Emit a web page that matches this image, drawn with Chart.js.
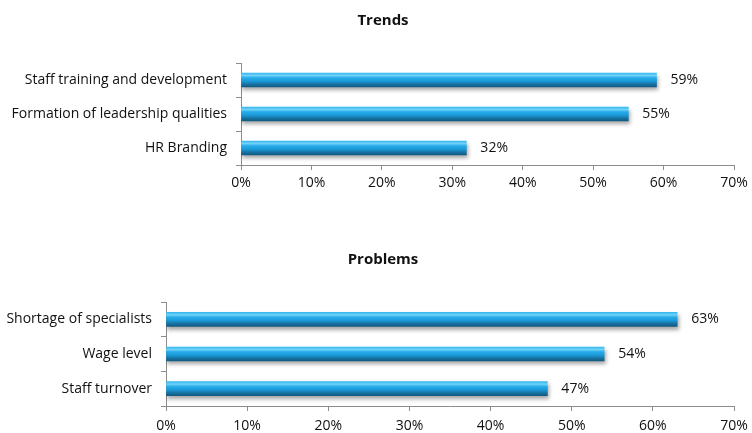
<!DOCTYPE html>
<html>
<head>
<meta charset="utf-8">
<script src="https://cdn.jsdelivr.net/npm/chart.js@4/dist/chart.umd.min.js"></script>
<style>
    html, body { margin: 0; padding: 0; background: #fff; overflow: hidden; }
    .box { position: absolute; left: 0; width: 752px; }
    #trendsBox { top: 0; height: 200px; }
    #problemsBox { top: 230px; height: 203px; }
    .title {
        position: absolute; left: 0; width: 766px; text-align: center;
        font: bold 15px 'Open Sans', sans-serif; color: #111; line-height: 18px;
    }
</style>
</head>
<body>
<div class="box" id="trendsBox"><canvas id="trendsChart"></canvas></div>
<div class="box" id="problemsBox"><canvas id="problemsChart"></canvas></div>
<div class="title" style="top:10px">Trends</div>
<div class="title" style="top:249px">Problems</div>
<script>
const trendLabels = ['Staff training and development', 'Formation of leadership qualities', 'HR Branding'];
const trendValues = [59, 55, 32];

const problemLabels = ['Shortage of specialists', 'Wage level', 'Staff turnover'];
const problemValues = [63, 54, 47];

const axisTicks = [0, 10, 20, 30, 40, 50, 60, 70];

const FONT = "'Open Sans', sans-serif";
Chart.defaults.font.family = FONT;
Chart.defaults.font.size = 14;
Chart.defaults.color = '#111';

const BAR_H = 14;

// glossy bar fill, computed from the category pixel
function barFill(ctx) {
    const chart = ctx.chart;
    const yScale = chart.scales.y;
    if (!yScale) return '#1b9ad6';
    const cy = yScale.getPixelForValue(ctx.dataIndex);
    if (!isFinite(cy)) return '#1b9ad6';
    const g = chart.ctx.createLinearGradient(0, cy - BAR_H / 2, 0, cy + BAR_H / 2);
    g.addColorStop(0, '#36b8ee');
    g.addColorStop(0.18, '#6fd2f6');
    g.addColorStop(0.35, '#26aceb');
    g.addColorStop(0.6, '#1a97d4');
    g.addColorStop(0.8, '#1772a2');
    g.addColorStop(1, '#135a82');
    return g;
}

const barShadow = {
    id: 'barShadow',
    beforeDatasetDraw(chart) {
        const c = chart.ctx;
        c.save();
        c.shadowColor = 'rgba(0,0,0,0.35)';
        c.shadowOffsetY = 3;
        c.shadowOffsetX = 1;
        c.shadowBlur = 4;
    },
    afterDatasetDraw(chart) {
        chart.ctx.restore();
    }
};

const valueLabels = {
    id: 'valueLabels',
    afterDatasetsDraw(chart) {
        const c = chart.ctx;
        const meta = chart.getDatasetMeta(0);
        const vals = chart.data.datasets[0].data;
        c.save();
        c.font = '14px ' + FONT;
        c.fillStyle = '#111';
        c.textAlign = 'left';
        c.textBaseline = 'middle';
        meta.data.forEach((bar, i) => {
            c.fillText(vals[i] + '%', bar.x + 14, bar.y);
        });
        c.restore();
    }
};

function makeChart(id, labels, values, axisWidth, plotTop, plotBottom, boxH, tickPad) {
    return new Chart(document.getElementById(id), {
        type: 'bar',
        data: {
            labels: labels,
            datasets: [{
                data: values,
                backgroundColor: barFill,
                borderWidth: 0,
                barThickness: BAR_H
            }]
        },
        plugins: [barShadow, valueLabels],
        options: {
            indexAxis: 'y',
            responsive: true,
            maintainAspectRatio: false,
            animation: false,
            layout: { padding: { left: 0, right: 18, top: plotTop, bottom: 0 } },
            scales: {
                x: {
                    min: axisTicks[0],
                    max: axisTicks[axisTicks.length - 1],
                    afterBuildTicks: (s) => { s.ticks = axisTicks.map(v => ({ value: v })); },
                    afterFit: (s) => {
                        s.height = boxH - plotBottom;
                        s.paddingLeft = 0;
                        s.paddingRight = 10;
                    },
                    grid: { drawOnChartArea: false, drawTicks: true, tickLength: 5, color: '#8c8c8c' },
                    border: { display: true, color: '#8c8c8c', width: 1 },
                    ticks: { callback: v => v + '%', padding: tickPad, maxRotation: 0 }
                },
                y: {
                    afterFit: (s) => { s.width = axisWidth; },
                    grid: { drawOnChartArea: false, drawTicks: true, tickLength: 5, color: '#8c8c8c', offset: true },
                    border: { display: true, color: '#8c8c8c', width: 1 },
                    ticks: { padding: 9 }
                }
            },
            plugins: {
                legend: { display: false },
                tooltip: { enabled: false },
                title: { display: false }
            }
        }
    });
}

makeChart('trendsChart', trendLabels, trendValues, 241, 63, 165, 200, 5);
makeChart('problemsChart', problemLabels, problemValues, 166, 72, 176, 203, 7);
</script>
</body>
</html>
